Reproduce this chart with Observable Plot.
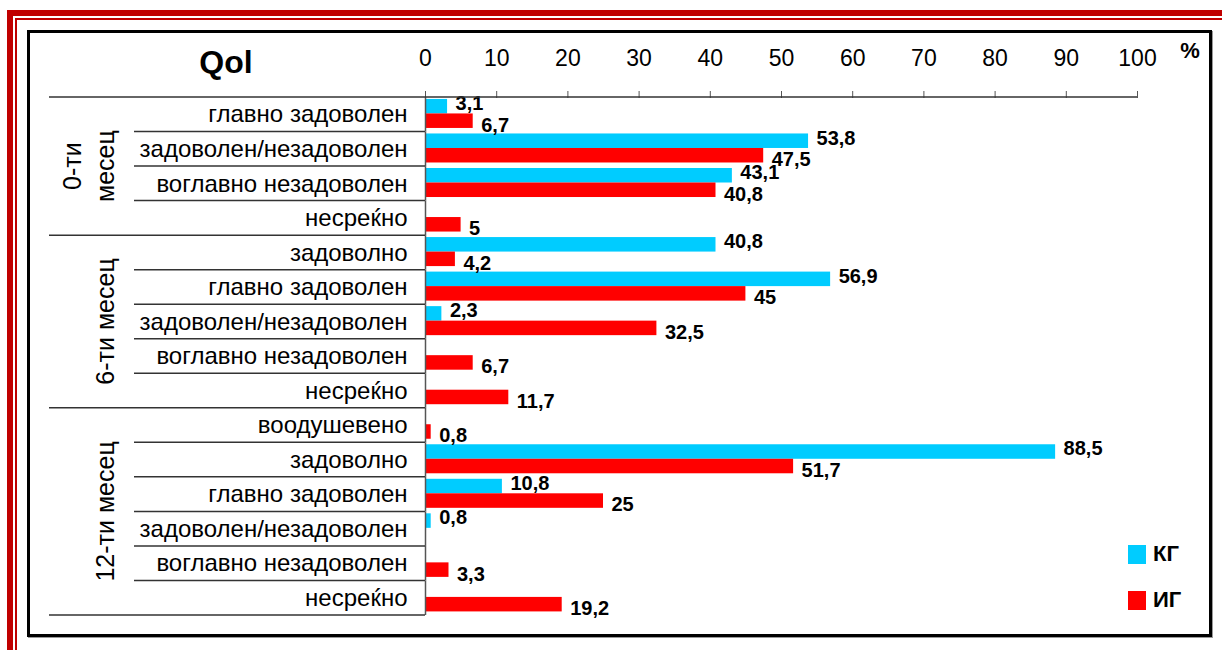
<!DOCTYPE html>
<html>
<head>
<meta charset="utf-8">
<script src="https://cdn.jsdelivr.net/npm/d3@7"></script>
<script src="https://cdn.jsdelivr.net/npm/@observablehq/plot@0.6"></script>
<style>
  html, body { margin: 0; padding: 0; background: #fff; }
  #page { position: relative; width: 1222px; height: 650px; overflow: hidden; font-family: "Liberation Sans", Arial, sans-serif; }
  .bar-line { position: absolute; background: #C00000; }
  #frame { position: absolute; left: 27px; top: 30px; width: 1185px; height: 607px; box-sizing: border-box; border: 3px solid #000; box-shadow: 1px 1px 0 #999; }
  #chart { position: absolute; left: 0; top: 0; }
  #chart svg { background: transparent; }
  .legend { position: absolute; left: 1128px; display: flex; align-items: center; font-family: "Liberation Sans", Arial, sans-serif; font-weight: bold; font-size: 22px; color: #000; }
  .legend span.sw { display: inline-block; width: 18px; height: 19px; margin-right: 7px; }
</style>
</head>
<body>
<div id="page">
  <div class="bar-line" style="left:7px; top:10px; right:0; height:6px;"></div>
  <div class="bar-line" style="left:7px; top:10px; width:6px; bottom:0;"></div>
  <div class="bar-line" style="left:15px; top:18px; right:0; height:2px;"></div>
  <div class="bar-line" style="left:15px; top:18px; width:2px; bottom:0;"></div>
  <div id="frame"></div>
  <div id="chart"></div>
  <div id="legend"></div>
</div>
<script>
// ---- data ----
const title = "Qol";
const unitLabel = "%";
const series = ["КГ", "ИГ"];
const seriesColors = ["#00CCFF", "#FF0000"];
const xTicks = [0, 10, 20, 30, 40, 50, 60, 70, 80, 90, 100];

const groups = ["0-ти месец", "6-ти месец", "12-ти месец"];
const groupLabelLines = [["0-ти", "месец"], ["6-ти месец"], ["12-ти месец"]];

const rows0 = ["главно задоволен", "задоволен/незадоволен", "воглавно незадоволен", "несреќно"];
const kg0 = [3.1, 53.8, 43.1, null];
const ig0 = [6.7, 47.5, 40.8, 5];

const rows6 = ["задоволно", "главно задоволен", "задоволен/незадоволен", "воглавно незадоволен", "несреќно"];
const kg6 = [40.8, 56.9, 2.3, null, null];
const ig6 = [4.2, 45, 32.5, 6.7, 11.7];

const rows12 = ["воодушевено", "задоволно", "главно задоволен", "задоволен/незадоволен", "воглавно незадоволен", "несреќно"];
const kg12 = [null, 88.5, 10.8, 0.8, null, null];
const ig12 = [0.8, 51.7, 25, null, 3.3, 19.2];

// ---- build table ----
const groupRows = [rows0, rows6, rows12];
const groupKG = [kg0, kg6, kg12];
const groupIG = [ig0, ig6, ig12];
const rowKeys = [];
const data = [];
groups.forEach((g, gi) => {
  groupRows[gi].forEach((r, ri) => {
    const key = g + "|" + r;
    rowKeys.push(key);
    data.push({row: key, series: series[0], value: groupKG[gi][ri]});
    data.push({row: key, series: series[1], value: groupIG[gi][ri]});
  });
});
const labelled = data.filter(d => d.value != null);
const fmt = v => String(v).replace(".", ",");
const font = "'Liberation Sans', Arial, sans-serif";
const labelOpts = {fy: "row", y: "series", x: "value", text: d => fmt(d.value), dx: 8, textAnchor: "start", fontWeight: "bold", fontSize: 20, fontFamily: font, fill: "#000"};

const chart = Plot.plot({
  width: 1222,
  height: 650,
  marginLeft: 425,
  marginRight: 85,
  marginTop: 97,
  marginBottom: 35,
  style: {fontFamily: font, background: "transparent", color: "#000"},
  x: {domain: [0, 100]},
  y: {domain: series, paddingInner: 0, paddingOuter: 0.19, align: 0.35, axis: null, round: false},
  fy: {domain: rowKeys, padding: 0, axis: null, round: false},
  color: {domain: series, range: seriesColors},
  marks: [
    Plot.barX(data, {fy: "row", y: "series", x: "value", fill: "series"}),
    Plot.ruleX([0], {stroke: "#555", strokeWidth: 1.5}),
    Plot.text(labelled.filter(d => d.series === series[0]), {...labelOpts, dy: -3}),
    Plot.text(labelled.filter(d => d.series === series[1]), {...labelOpts, dy: 4}),
    Plot.axisX({anchor: "top", ticks: xTicks, tickSize: 7, tickPadding: 25, fontSize: 23, label: null, stroke: "#555"}),
    Plot.axisFy({anchor: "left", tickSize: 0, tickPadding: 18, fontSize: 24, label: null, tickFormat: k => k.split("|")[1]})
  ]
});
document.getElementById("chart").appendChild(chart);

// ---- decorations drawn from the plot's own scales ----
const svg = d3.select(chart);
const fy = chart.scale("fy");
const xs = chart.scale("x");
const x0 = xs.apply(0), x100 = xs.apply(100);
const bw = fy.bandwidth;
const deco = svg.append("g").attr("stroke", "#333").attr("stroke-width", 1.5);
let idx = 0;
groups.forEach((g, gi) => {
  const n = groupRows[gi].length;
  const firstKey = rowKeys[idx], lastKey = rowKeys[idx + n - 1];
  const top = fy.apply(firstKey), bottom = fy.apply(lastKey) + bw;
  deco.append("line").attr("x1", 49).attr("x2", gi === 0 ? x100 : x0).attr("y1", top).attr("y2", top);
  for (let i = 1; i < n; i++) {
    const y = fy.apply(rowKeys[idx + i]);
    deco.append("line").attr("x1", 134).attr("x2", x0).attr("y1", y).attr("y2", y);
  }
  if (gi === groups.length - 1) deco.append("line").attr("x1", 49).attr("x2", x0).attr("y1", bottom).attr("y2", bottom);
  const cy = (top + bottom) / 2;
  const lines = groupLabelLines[gi];
  lines.forEach((t, li) => {
    const cx = 105 - (lines.length - 1 - li) * 33;
    svg.append("text")
      .attr("transform", `translate(${cx},${cy}) rotate(-90)`)
      .attr("text-anchor", "middle").attr("dy", "0.35em")
      .attr("font-size", 25).attr("font-family", font).attr("fill", "#000")
      .text(t);
  });
  idx += n;
});
svg.append("text").attr("x", 226).attr("y", 73).attr("text-anchor", "middle")
  .attr("font-size", 32).attr("font-weight", "bold").attr("font-family", font).text(title);
svg.append("text").attr("x", x100 + 53).attr("y", 58).attr("text-anchor", "middle")
  .attr("font-size", 22).attr("font-weight", "bold").attr("font-family", font).text(unitLabel);

const leg = document.getElementById("legend");
series.forEach((s, i) => {
  const div = document.createElement("div");
  div.className = "legend";
  div.style.top = (541 + i * 46) + "px";
  div.innerHTML = `<span class="sw" style="background:${seriesColors[i]}"></span>${s}`;
  leg.appendChild(div);
});
</script>
</body>
</html>
